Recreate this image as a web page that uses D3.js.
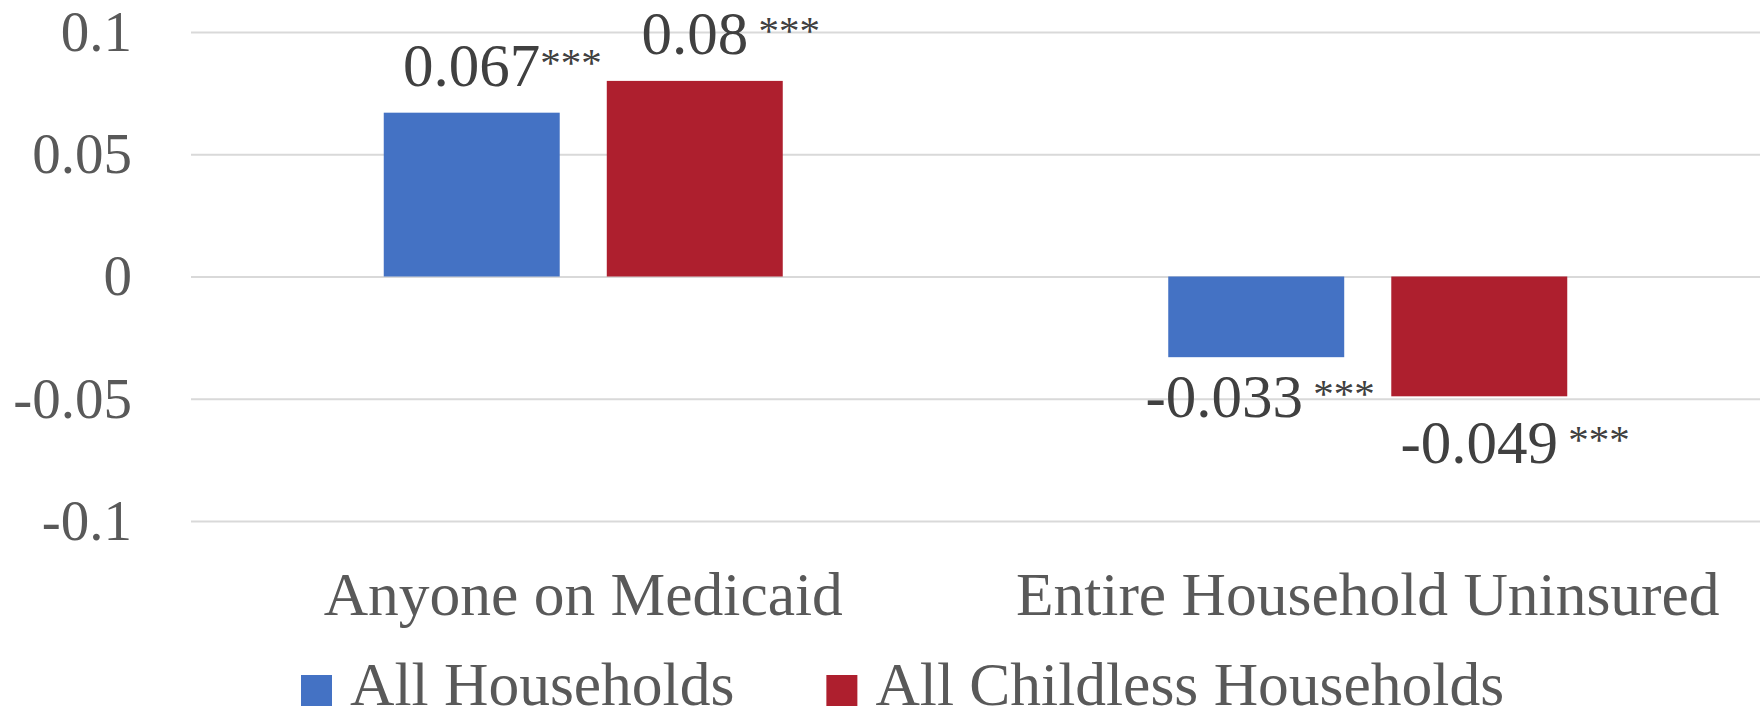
<!DOCTYPE html>
<html>
<head>
<meta charset="utf-8">
<script src="https://cdn.jsdelivr.net/npm/d3@7"></script>
<style>
  body { margin: 0; background: #fff; }
</style>
</head>
<body>
<svg></svg>
<script>
// ### Data ###
var categories = ['Anyone on Medicaid', 'Entire Household Uninsured'];
var seriesNames = ['All Households', 'All Childless Households'];
var allValues = [0.067, -0.033];
var childlessValues = [0.08, -0.049];
var allLabels = ['0.067', '-0.033'];
var childlessLabels = ['0.08', '-0.049'];
var allStars = ['***', ' ***'];
var childlessStars = [' ***', ' ***'];
var yTicks = [-0.1, -0.05, 0, 0.05, 0.1];
var yTickLabels = ['-0.1', '-0.05', '0', '0.05', '0.1'];

var colors = ['#4472C4', '#AE1F2E'];
var font = "'Liberation Serif'";

// table the chart is built from
var rows = [];
categories.forEach(function(c, i) {
  rows.push({cat: c, series: seriesNames[0], value: allValues[i], label: allLabels[i], stars: allStars[i], nudge: i == 1 ? [-32, -7] : [0, 0]});
  rows.push({cat: c, series: seriesNames[1], value: childlessValues[i], label: childlessLabels[i], stars: childlessStars[i], nudge: [0, 0]});
});

// ### Setting up canvas ###
var width = 1763;
var height = 713;
var plot = {left: 191, right: 1760, top: 32, bottom: 521};

var svg = d3.select('svg')
  .attr('width', width)
  .attr('height', height);

// ### Scales ###
var yScale = d3.scaleLinear()
  .domain([-0.1, 0.1])
  .range([plot.bottom, plot.top]);

var x0 = d3.scaleBand()
  .domain(categories)
  .range([plot.left, plot.right]);

// bars take about half of each category band
var groupW = 399;
var x1 = d3.scaleBand()
  .domain(seriesNames)
  .range([-groupW / 2, groupW / 2])
  .paddingInner(0.211);

var color = d3.scaleOrdinal()
  .domain(seriesNames)
  .range(colors);

// ### Grid + y axis ###
var yAxis = d3.axisLeft(yScale)
  .tickValues(yTicks)
  .tickSize(-(plot.right - plot.left))
  .tickPadding(59)
  .tickFormat(function(d, i) { return yTickLabels[i]; });

var gy = svg.append('g')
  .attr('transform', 'translate(' + plot.left + ',0)')
  .call(yAxis)
  .attr('font-family', null)
  .attr('font-size', null);
gy.select('.domain').remove();
gy.selectAll('line').attr('stroke', '#d9d9d9').attr('stroke-width', 2);
gy.selectAll('text')
  .style('font-family', font)
  .style('font-size', '57px')
  .attr('fill', '#595959');

// ### Bars ###
svg.selectAll('rect.bar')
  .data(rows)
  .enter()
  .append('rect')
  .attr('class', 'bar')
  .attr('x', d => x0(d.cat) + x0.bandwidth() / 2 + x1(d.series))
  .attr('width', x1.bandwidth())
  .attr('y', d => yScale(Math.max(0, d.value)))
  .attr('height', d => Math.abs(yScale(d.value) - yScale(0)))
  .attr('fill', d => color(d.series));

// ### Category axis ###
var xAxis = d3.axisBottom(x0)
  .tickSize(0)
  .tickPadding(50);

var gx = svg.append('g')
  .attr('transform', 'translate(0,' + plot.bottom + ')')
  .call(xAxis)
  .attr('font-family', null)
  .attr('font-size', null);
gx.select('.domain').remove();
gx.selectAll('text')
  .style('font-family', font)
  .style('font-size', '61.5px')
  .attr('fill', '#595959');

// ### Data labels ###
rows.forEach(function(d) {
  var cx = x0(d.cat) + x0.bandwidth() / 2 + x1(d.series) + x1.bandwidth() / 2 + d.nudge[0];
  var base = d.value >= 0 ? yScale(d.value) - 27 : yScale(d.value) + 67;
  base += d.nudge[1];

  var num = svg.append('text')
    .attr('x', cx)
    .attr('y', base)
    .attr('text-anchor', 'middle')
    .style('font-family', font)
    .style('font-size', '61px')
    .attr('fill', '#404040')
    .text(d.label);

  var w = num.node().getComputedTextLength();
  svg.append('text')
    .attr('x', cx + w / 2)
    .attr('y', base - 10)
    .style('font-family', font)
    .style('font-size', '41px')
    .attr('fill', '#404040')
    .style('white-space', 'pre')
    .text(d.stars);
});

// ### Legend ###
var lx = 301;
seriesNames.forEach(function(s, i) {
  svg.append('rect')
    .attr('x', lx)
    .attr('y', 675)
    .attr('width', 31)
    .attr('height', 31)
    .attr('fill', color(s));
  var t = svg.append('text')
    .attr('x', lx + 49)
    .attr('y', 705)
    .style('font-family', font)
    .style('font-size', '61.5px')
    .attr('fill', '#595959')
    .text(s);
  lx = lx + 49 + t.node().getComputedTextLength() + 92;
});
</script>
</body>
</html>
